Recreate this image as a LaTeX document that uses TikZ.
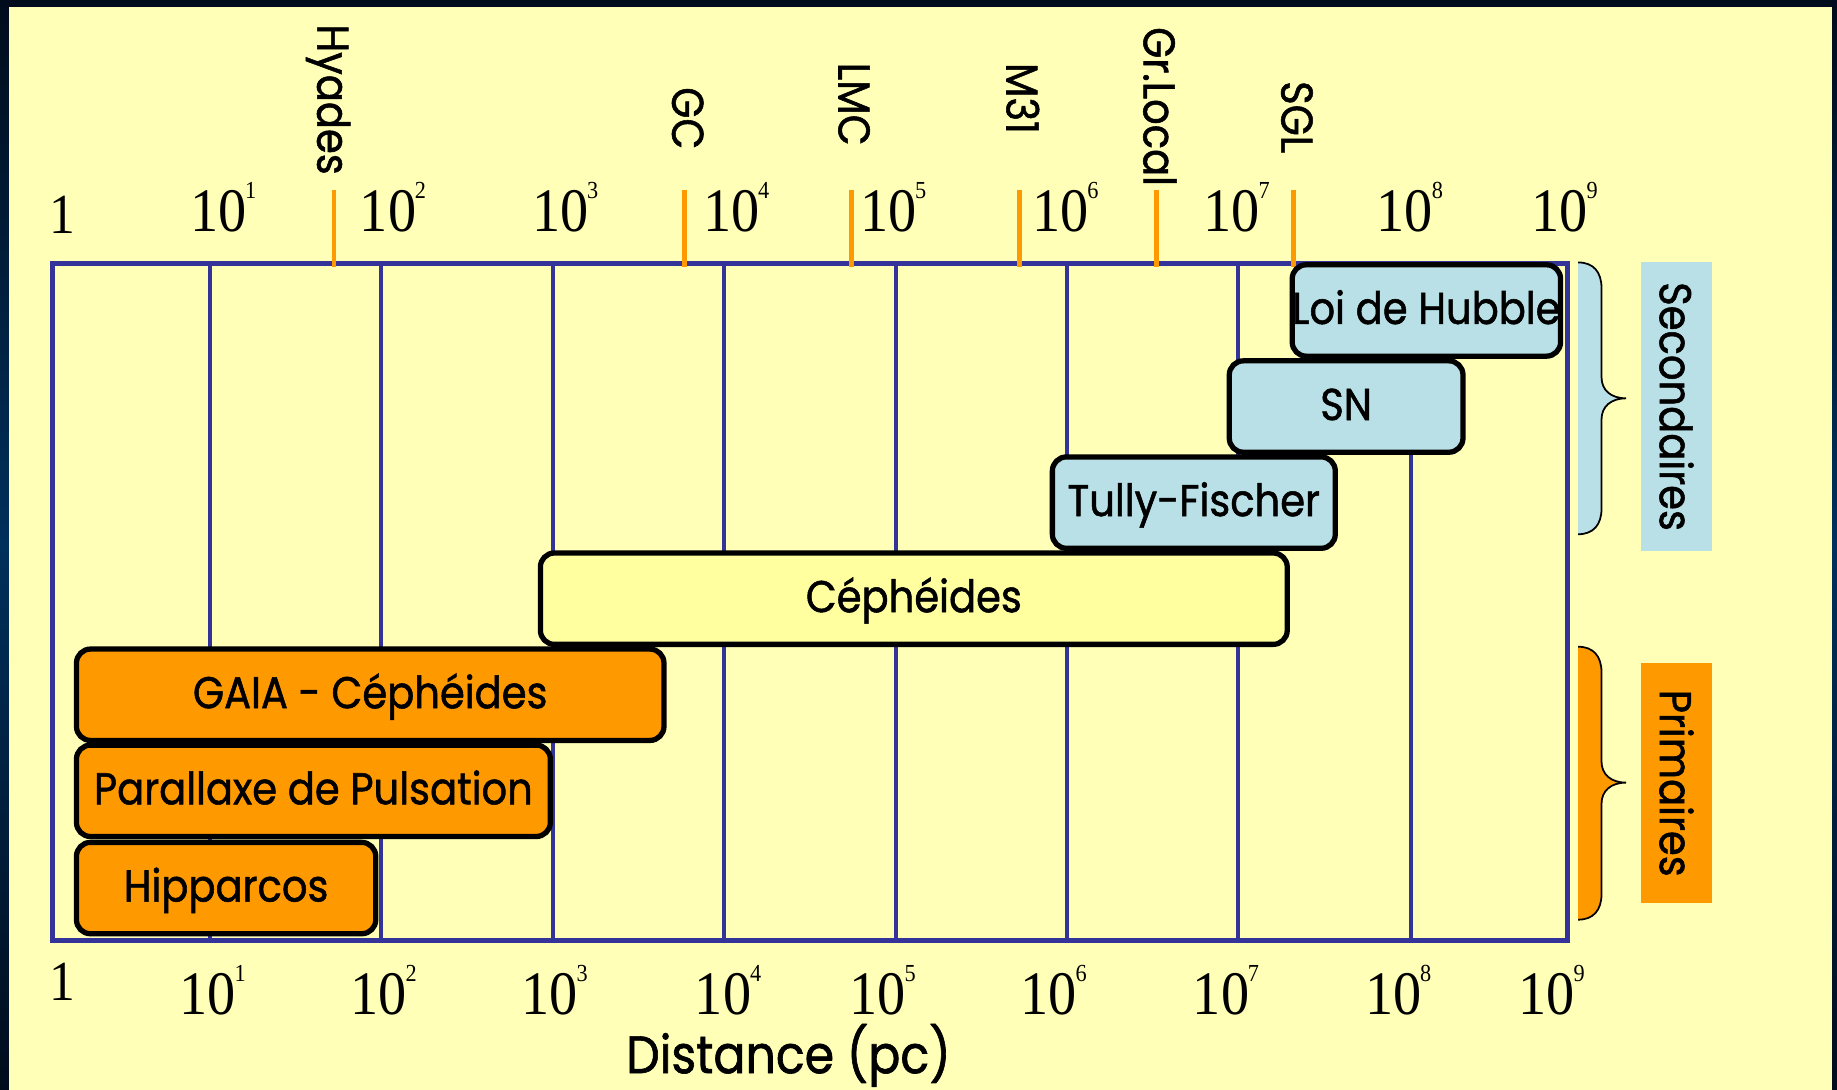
\documentclass[tikz,border=0pt]{standalone}
\usepackage{fontspec}
\usepackage{graphicx}
\setmainfont{Liberation Serif}
\newfontfamily\handfont{Poppins}[FakeBold=1.2,FakeStretch=0.9]
\definecolor{bgyellow}{HTML}{FFFFB8}
\definecolor{gridblue}{HTML}{333399}
\definecolor{tickorange}{HTML}{FF9900}
\definecolor{skyblue}{HTML}{B8E0E6}
\definecolor{cephyellow}{HTML}{FFFFA0}
\definecolor{edgedark}{HTML}{000C1C}
\definecolor{edgemid}{HTML}{00305C}

% scale labels: 10 with a small exponent
\newcommand\tenexp[1]{\scalebox{1}[1.1]{\fontsize{48}{48}\selectfont 10\kern-1pt\raisebox{26pt}{\fontsize{19}{19}\selectfont #1}}}
\newcommand\unitone{\scalebox{1}[1.1]{\fontsize{44}{44}\selectfont 1}}
% right curly brace from y=#1 to y=#3 with its tip at y=#2
\newcommand\bracecurve[3]{(1347,#1) .. controls (1360,#1) and (1367,#1+8) .. (1367,#1+22) -- (1367,#2-18) .. controls (1367,#2-7) and (1375,#2) .. (1388,#2) .. controls (1375,#2) and (1367,#2+7) .. (1367,#2+18) -- (1367,#3-22) .. controls (1367,#3-8) and (1360,#3) .. (1347,#3)}

\begin{document}
\begin{tikzpicture}[x=1pt,y=-1pt,
  gridline/.style={draw=gridblue,line width=3.5pt},
  frameline/.style={draw=gridblue,line width=4.5pt},
  tickmark/.style={draw=tickorange,line width=4pt},
  scalelabel/.style={anchor=base west,inner sep=0pt},
  objlabel/.style={rotate=-90,inner sep=0pt,font=\handfont\fontsize{38}{38}\selectfont},
  method/.style={draw=black,line width=4.5pt,rounded corners=12pt,inner sep=0pt,
    minimum height=78pt,text height=23pt,text depth=0pt,
    font=\handfont\fontsize{38}{38}\selectfont},
  groupbox/.style={rotate=-90,inner sep=0pt,minimum height=60pt,
    font=\handfont\fontsize{38}{38}\selectfont},
  braceline/.style={draw=black,line width=1.5pt}
]
\useasboundingbox (0,0) rectangle (1568,930);
% page background with dark edge
\shade[top color=edgedark,bottom color=edgedark,middle color=edgemid] (0,0) rectangle (1568,930);
\fill[bgyellow] (8,6) rectangle (1564,930);

% decade grid and frame
\foreach \gx in {179,325,472,618,765,911,1057,1204}
  \draw[gridline] (\gx,225) -- (\gx,803);
\draw[frameline] (45,225) rectangle (1338,803);

% reference objects
\foreach \tx in {285,584,727,870,987,1104}
  \draw[tickmark] (\tx,162) -- (\tx,228);
\node[objlabel] (hyades) at (280,85) {Hyades};
\node[objlabel] (gc) at (587,101) {GC};
\node[objlabel] (lmc) at (729,89) {LMC};
\node[objlabel] (m31) at (873,84) {M31};
\node[objlabel] (grlocal) at (990,91) {Gr.Local};
\node[objlabel] (sgl) at (1107,100) {SGL};

% top scale
\node[scalelabel] (ta) at (42,199) {\unitone};
\node[scalelabel] (tb) at (162,198) {\tenexp{1}};
\node[scalelabel] (tc) at (307,198) {\tenexp{2}};
\node[scalelabel] (td) at (454,198) {\tenexp{3}};
\node[scalelabel] (te) at (600,198) {\tenexp{4}};
\node[scalelabel] (tf) at (734,198) {\tenexp{5}};
\node[scalelabel] (tg) at (881,198) {\tenexp{6}};
\node[scalelabel] (th) at (1027,198) {\tenexp{7}};
\node[scalelabel] (ti) at (1175,198) {\tenexp{8}};
\node[scalelabel] (tj) at (1307,198) {\tenexp{9}};

% bottom scale
\node[scalelabel] (ba) at (42,854) {\unitone};
\node[scalelabel] (bb) at (153,866) {\tenexp{1}};
\node[scalelabel] (bc) at (299,866) {\tenexp{2}};
\node[scalelabel] (bd) at (445,866) {\tenexp{3}};
\node[scalelabel] (be) at (593,866) {\tenexp{4}};
\node[scalelabel] (bf) at (725,866) {\tenexp{5}};
\node[scalelabel] (bg) at (871,866) {\tenexp{6}};
\node[scalelabel] (bh) at (1018,866) {\tenexp{7}};
\node[scalelabel] (bi) at (1165,866) {\tenexp{8}};
\node[scalelabel] (bj) at (1296,866) {\tenexp{9}};
\node[anchor=base,inner sep=0pt,font=\handfont\fontsize{45}{45}\selectfont] (axis) at (673,916) {Distance (pc)};

% distance methods
\node[method,fill=skyblue,minimum width=228.5pt] (hubble) at (1217.5,265) {Loi de Hubble};
\node[method,fill=skyblue,minimum width=199.5pt] (sn) at (1149,347) {SN};
\node[method,fill=skyblue,minimum width=241.5pt] (tully) at (1019,429) {Tully-Fischer};
\node[method,fill=cephyellow,minimum width=637.5pt] (ceph) at (780,511) {Céphéides};
\node[method,fill=tickorange,minimum width=501.5pt] (gaia) at (316,593) {GAIA - Céphéides};
\node[method,fill=tickorange,minimum width=404.5pt] (pulse) at (267.5,675) {Parallaxe de Pulsation};
\node[method,fill=tickorange,minimum width=255.5pt] (hipp) at (193,758) {Hipparcos};

% groupings
\fill[skyblue] \bracecurve{224}{340}{456} -- cycle;
\draw[braceline] \bracecurve{224}{340}{456};
\fill[tickorange] \bracecurve{552}{668}{785} -- cycle;
\draw[braceline] \bracecurve{552}{668}{785};
\node[groupbox,fill=skyblue,minimum width=246pt] (sec) at (1431,347) {Secondaires};
\node[groupbox,fill=tickorange,minimum width=205pt] (prim) at (1431,668.5) {Primaires};
\end{tikzpicture}
\end{document}
